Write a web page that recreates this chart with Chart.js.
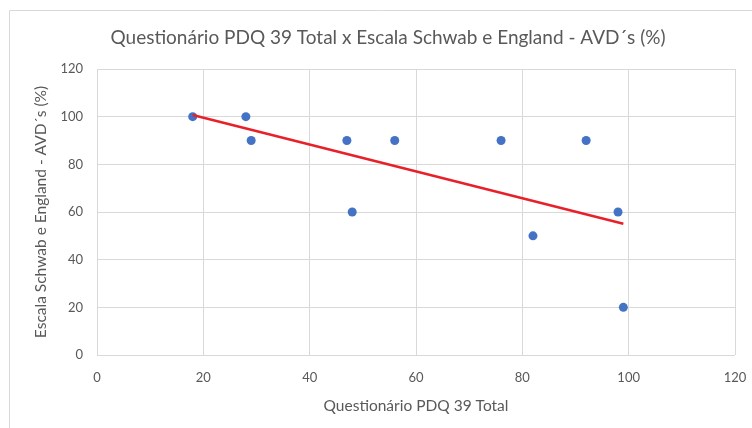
<!DOCTYPE html>
<html lang="pt">
<head>
<meta charset="utf-8">
<title>Questionário PDQ 39 Total x Escala Schwab e England - AVD´s (%)</title>
<script src="https://cdn.jsdelivr.net/npm/chart.js@4/dist/chart.umd.min.js"></script>
<style>
  html, body { margin: 0; padding: 0; background: #ffffff; }
  #wrap { width: 752px; height: 428px; }
</style>
</head>
<body>
<div id="wrap"><canvas id="chart" width="752" height="428"></canvas></div>
<script>
// Pontuação total do PDQ-39 de cada paciente
const pdqTotal = [18, 28, 29, 47, 48, 56, 76, 82, 92, 98, 99];
// Escala Schwab e England - AVD's (%) do mesmo paciente
const schwabEngland = [100, 100, 90, 90, 60, 90, 90, 50, 90, 60, 20];
// Marcas dos eixos
const xTicks = [0, 20, 40, 60, 80, 100, 120];
const yTicks = [0, 20, 40, 60, 80, 100, 120];

const chartTitle = 'Questionário PDQ 39 Total x Escala Schwab e England - AVD´s (%)';
const xTitle = 'Questionário PDQ 39 Total';
const yTitle = 'Escala Schwab e England - AVD´s (%)';

const points = pdqTotal.map((x, i) => ({ x: x, y: schwabEngland[i] }));

// Linha de tendência linear (mínimos quadrados)
function linearTrend(xs, ys) {
  const n = xs.length;
  const mx = xs.reduce((a, b) => a + b, 0) / n;
  const my = ys.reduce((a, b) => a + b, 0) / n;
  let sxy = 0, sxx = 0;
  for (let i = 0; i < n; i++) {
    sxy += (xs[i] - mx) * (ys[i] - my);
    sxx += (xs[i] - mx) * (xs[i] - mx);
  }
  const slope = sxy / sxx;
  const intercept = my - slope * mx;
  const x0 = Math.min(...xs), x1 = Math.max(...xs);
  return [{ x: x0, y: intercept + slope * x0 }, { x: x1, y: intercept + slope * x1 }];
}
const trend = linearTrend(pdqTotal, schwabEngland);

const FONT = 'Lato, "Open Sans", sans-serif';
const GREY = '#595959';
const GRID = '#d9d9d9';

// Moldura da área do gráfico
const frame = {
  id: 'frame',
  beforeDraw(chart) {
    const ctx = chart.ctx;
    ctx.save();
    ctx.fillStyle = '#ffffff';
    ctx.fillRect(0, 0, chart.width, chart.height);
    ctx.strokeStyle = GRID;
    ctx.lineWidth = 1;
    ctx.beginPath();
    ctx.moveTo(9.5, chart.height + 2);
    ctx.lineTo(9.5, 10.5);
    ctx.lineTo(chart.width + 2, 10.5);
    ctx.stroke();
    ctx.restore();
  }
};

new Chart(document.getElementById('chart'), {
  type: 'scatter',
  data: {
    datasets: [
      {
        type: 'line',
        label: 'Linear',
        data: trend,
        borderColor: '#e8202a',
        borderWidth: 2.5,
        pointRadius: 0,
        fill: false,
        order: 0
      },
      {
        label: 'AVD',
        data: points,
        backgroundColor: '#4472c4',
        borderColor: '#4472c4',
        borderWidth: 0,
        pointRadius: 4.5,
        order: 1
      }
    ]
  },
  options: {
    responsive: false,
    devicePixelRatio: 1,
    animation: false,
    layout: { padding: { left: 30, right: 6, top: 0, bottom: 0 } },
    plugins: {
      legend: { display: false },
      tooltip: { enabled: false },
      title: {
        display: true,
        text: chartTitle,
        color: GREY,
        font: { family: FONT, size: 19, weight: 'normal', lineHeight: 1.2 },
        padding: { top: 26, bottom: 20.2 }
      }
    },
    scales: {
      x: {
        type: 'linear',
        min: 0,
        max: 120,
        afterBuildTicks: (axis) => { axis.ticks = xTicks.map(v => ({ value: v })); },
        afterFit: (axis) => {
          axis.height = 428 - 355;
          axis.paddingLeft = 0;
          axis.paddingRight = 17;
        },
        ticks: { color: GREY, font: { family: FONT, size: 13 }, padding: 15 },
        grid: { color: GRID, lineWidth: 1, drawTicks: false },
        border: { display: false },
        title: {
          display: true,
          text: xTitle,
          color: GREY,
          font: { family: FONT, size: 15.5 },
          padding: { top: 0, bottom: 12.5 }
        }
      },
      y: {
        type: 'linear',
        min: 0,
        max: 120,
        afterBuildTicks: (axis) => { axis.ticks = yTicks.map(v => ({ value: v })); },
        afterFit: (axis) => { axis.width = 97 - 30; },
        ticks: { color: GREY, font: { family: FONT, size: 13 }, padding: 14 },
        grid: { color: GRID, lineWidth: 1, drawTicks: false },
        border: { display: false },
        title: {
          display: true,
          text: yTitle,
          color: GREY,
          font: { family: FONT, size: 15.5 },
          padding: { top: 2, bottom: 0 }
        }
      }
    }
  },
  plugins: [frame]
});
</script>
</body>
</html>
